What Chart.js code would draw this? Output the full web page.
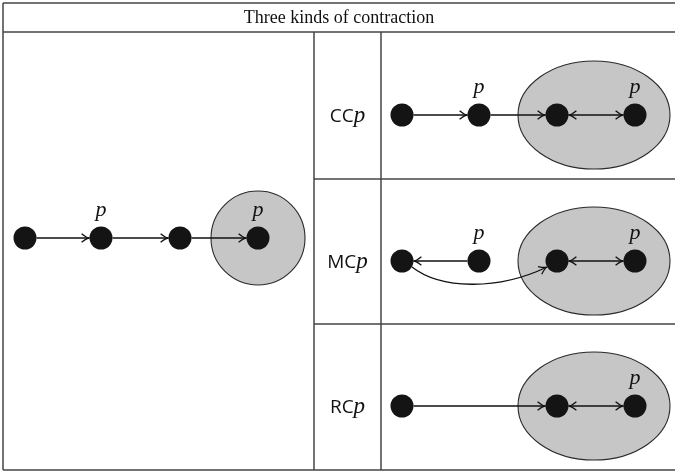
<!DOCTYPE html>
<html>
<head>
<meta charset="utf-8">
<script src="https://cdn.jsdelivr.net/npm/chart.js@4"></script>
<style>
  html, body { margin: 0; padding: 0; background: #fff; }
  canvas { display: block; }
</style>
</head>
<body>
<canvas id="c" width="675" height="472"></canvas>
<script>
  // diagram coords: x 0..675, y 0..472 (top = 0)
  const TITLE = "Three kinds of contraction";
  const rowNames = ["CC", "MC", "RC"];

  const leftY = 238;
  const leftNodeX = [25, 101, 180, 258];
  const leftMarks = [1, 3];
  const leftEdges = [[0, 1, "->"], [1, 2, "->"], [2, 3, "->"]];
  const leftCircle = { x: 258, y: 238, rx: 47, ry: 47 };

  const rightNodeX = [402, 479, 557, 635];
  const rowY = [115, 261, 406];
  const rowNodes = [[0, 1, 2, 3], [0, 1, 2, 3], [0, 2, 3]];
  const rowMarks = [[1, 3], [1, 3], [3]];
  const rowEdges = [
    [[0, 1, "->"], [1, 2, "->"], [2, 3, "<->"]],
    [[1, 0, "->"], [0, 2, "curve"], [2, 3, "<->"]],
    [[0, 2, "->"], [2, 3, "<->"]],
  ];
  const rowEllipse = { x: 594, rx: 76, ry: 54 };

  const gridTop = 3, gridTitle = 32, gridBottom = 470;
  const gridLeft = 3, gridRight = 675;
  const colSplit = [314, 381];
  const rowSplit = [179, 324];

  const NODE_R = 11.5;

  const nodePts = [];
  leftNodeX.forEach((x) => nodePts.push({ x, y: leftY }));
  rowNodes.forEach((ids, r) => ids.forEach((i) => nodePts.push({ x: rightNodeX[i], y: rowY[r] })));

  function px(chart, x) { return chart.scales.x.getPixelForValue(x); }
  function py(chart, y) { return chart.scales.y.getPixelForValue(y); }

  function head(ctx, tx, ty, ang) {
    const L = 9, a = 0.5;
    ctx.beginPath();
    ctx.moveTo(tx - L * Math.cos(ang - a), ty - L * Math.sin(ang - a));
    ctx.quadraticCurveTo(tx - 2.5 * Math.cos(ang), ty - 2.5 * Math.sin(ang), tx, ty);
    ctx.quadraticCurveTo(tx - 2.5 * Math.cos(ang), ty - 2.5 * Math.sin(ang),
      tx - L * Math.cos(ang + a), ty - L * Math.sin(ang + a));
    ctx.stroke();
  }

  function edge(chart, x0, y0, x1, y1, kind) {
    const ctx = chart.ctx;
    const a = px(chart, x0), b = py(chart, y0), c = px(chart, x1), d = py(chart, y1);
    const ang = Math.atan2(d - b, c - a);
    const sx = a + NODE_R * Math.cos(ang), sy = b + NODE_R * Math.sin(ang);
    const ex = c - NODE_R * Math.cos(ang), ey = d - NODE_R * Math.sin(ang);
    ctx.beginPath();
    ctx.moveTo(sx, sy);
    ctx.lineTo(ex, ey);
    ctx.stroke();
    head(ctx, ex, ey, ang);
    if (kind === "<->") head(ctx, sx, sy, ang + Math.PI);
  }

  function curveEdge(chart, x0, y0, x1, y1) {
    const ctx = chart.ctx;
    const s = [px(chart, x0 + 10), py(chart, y0 + 6)];
    const c1 = [px(chart, x0 + 38), py(chart, y0 + 28)];
    const c2 = [px(chart, x1 - 60), py(chart, y1 + 30)];
    const e = [px(chart, x1 - 10), py(chart, y1 + 6)];
    ctx.beginPath();
    ctx.moveTo(s[0], s[1]);
    ctx.bezierCurveTo(c1[0], c1[1], c2[0], c2[1], e[0], e[1]);
    ctx.stroke();
    head(ctx, e[0], e[1], Math.atan2(e[1] - c2[1], e[0] - c2[0]));
  }

  function ellipse(chart, cx, cy, rx, ry) {
    const ctx = chart.ctx;
    const x = px(chart, cx), y = py(chart, cy);
    ctx.beginPath();
    ctx.ellipse(x, y, px(chart, cx + rx) - x, py(chart, cy + ry) - y, 0, 0, Math.PI * 2);
    ctx.fillStyle = "#c6c6c6";
    ctx.fill();
    ctx.strokeStyle = "#2a2a2a";
    ctx.lineWidth = 1.1;
    ctx.stroke();
  }

  function hline(chart, y, x0, x1) {
    const ctx = chart.ctx;
    ctx.beginPath();
    ctx.moveTo(px(chart, x0), py(chart, y));
    ctx.lineTo(px(chart, x1), py(chart, y));
    ctx.stroke();
  }
  function vline(chart, x, y0, y1) {
    const ctx = chart.ctx;
    ctx.beginPath();
    ctx.moveTo(px(chart, x), py(chart, y0));
    ctx.lineTo(px(chart, x), py(chart, y1));
    ctx.stroke();
  }

  function pMark(chart, x, y) {
    const ctx = chart.ctx;
    ctx.font = "italic 22px 'Liberation Serif'";
    ctx.fillStyle = "#111";
    ctx.textAlign = "center";
    ctx.textBaseline = "alphabetic";
    ctx.fillText("p", px(chart, x), py(chart, y - 22));
  }

  const diagram = {
    id: "diagram",
    beforeDatasetsDraw(chart) {
      const ctx = chart.ctx;
      ctx.save();
      ctx.strokeStyle = "#444";
      ctx.lineWidth = 1.5;
      hline(chart, gridTop, gridLeft, gridRight);
      hline(chart, gridTitle, gridLeft, gridRight);
      hline(chart, gridBottom, gridLeft, gridRight);
      vline(chart, gridLeft, gridTop, gridBottom);
      colSplit.forEach((x) => vline(chart, x, gridTitle, gridBottom));
      rowSplit.forEach((y) => hline(chart, y, colSplit[0], gridRight));

      ellipse(chart, leftCircle.x, leftCircle.y, leftCircle.rx, leftCircle.ry);
      rowY.forEach((y) => ellipse(chart, rowEllipse.x, y, rowEllipse.rx, rowEllipse.ry));

      ctx.strokeStyle = "#111";
      ctx.lineWidth = 1.3;
      leftEdges.forEach(([a, b, k]) => edge(chart, leftNodeX[a], leftY, leftNodeX[b], leftY, k));
      rowEdges.forEach((list, r) => list.forEach(([a, b, k]) => {
        if (k === "curve") curveEdge(chart, rightNodeX[a], rowY[r], rightNodeX[b], rowY[r]);
        else edge(chart, rightNodeX[a], rowY[r], rightNodeX[b], rowY[r], k);
      }));
      ctx.restore();
    },
    afterDatasetsDraw(chart) {
      const ctx = chart.ctx;
      ctx.save();
      ctx.fillStyle = "#111";
      ctx.font = "18px 'Liberation Serif'";
      ctx.textAlign = "center";
      ctx.textBaseline = "middle";
      ctx.fillText(TITLE, px(chart, (gridLeft + gridRight) / 2), py(chart, 18));

      leftMarks.forEach((i) => pMark(chart, leftNodeX[i], leftY));
      rowMarks.forEach((ids, r) => ids.forEach((i) => pMark(chart, rightNodeX[i], rowY[r])));

      rowNames.forEach((name, r) => {
        ctx.font = "19px 'Open Sans'";
        const w1 = ctx.measureText(name).width;
        ctx.font = "italic 23px 'Liberation Serif'";
        const w2 = ctx.measureText("p").width;
        const x0 = px(chart, (colSplit[0] + colSplit[1]) / 2) - (w1 + w2) / 2;
        const y = py(chart, rowY[r] + 7);
        ctx.textAlign = "left";
        ctx.textBaseline = "alphabetic";
        ctx.font = "19px 'Open Sans'";
        ctx.fillText(name, x0, y);
        ctx.font = "italic 23px 'Liberation Serif'";
        ctx.fillText("p", x0 + w1, y);
      });
      ctx.restore();
    },
  };

  new Chart(document.getElementById("c"), {
    type: "scatter",
    data: {
      datasets: [{
        data: nodePts,
        backgroundColor: "#141414",
        borderColor: "#141414",
        borderWidth: 0,
        pointRadius: NODE_R,
        pointHoverRadius: NODE_R,
        clip: false,
      }],
    },
    options: {
      responsive: false,
      animation: false,
      events: [],
      layout: { padding: 0, autoPadding: false },
      plugins: { legend: { display: false }, tooltip: { enabled: false } },
      scales: {
        x: { type: "linear", min: 0, max: 675, display: false },
        y: { type: "linear", min: 0, max: 472, reverse: true, display: false },
      },
    },
    plugins: [diagram],
  });
</script>
</body>
</html>
